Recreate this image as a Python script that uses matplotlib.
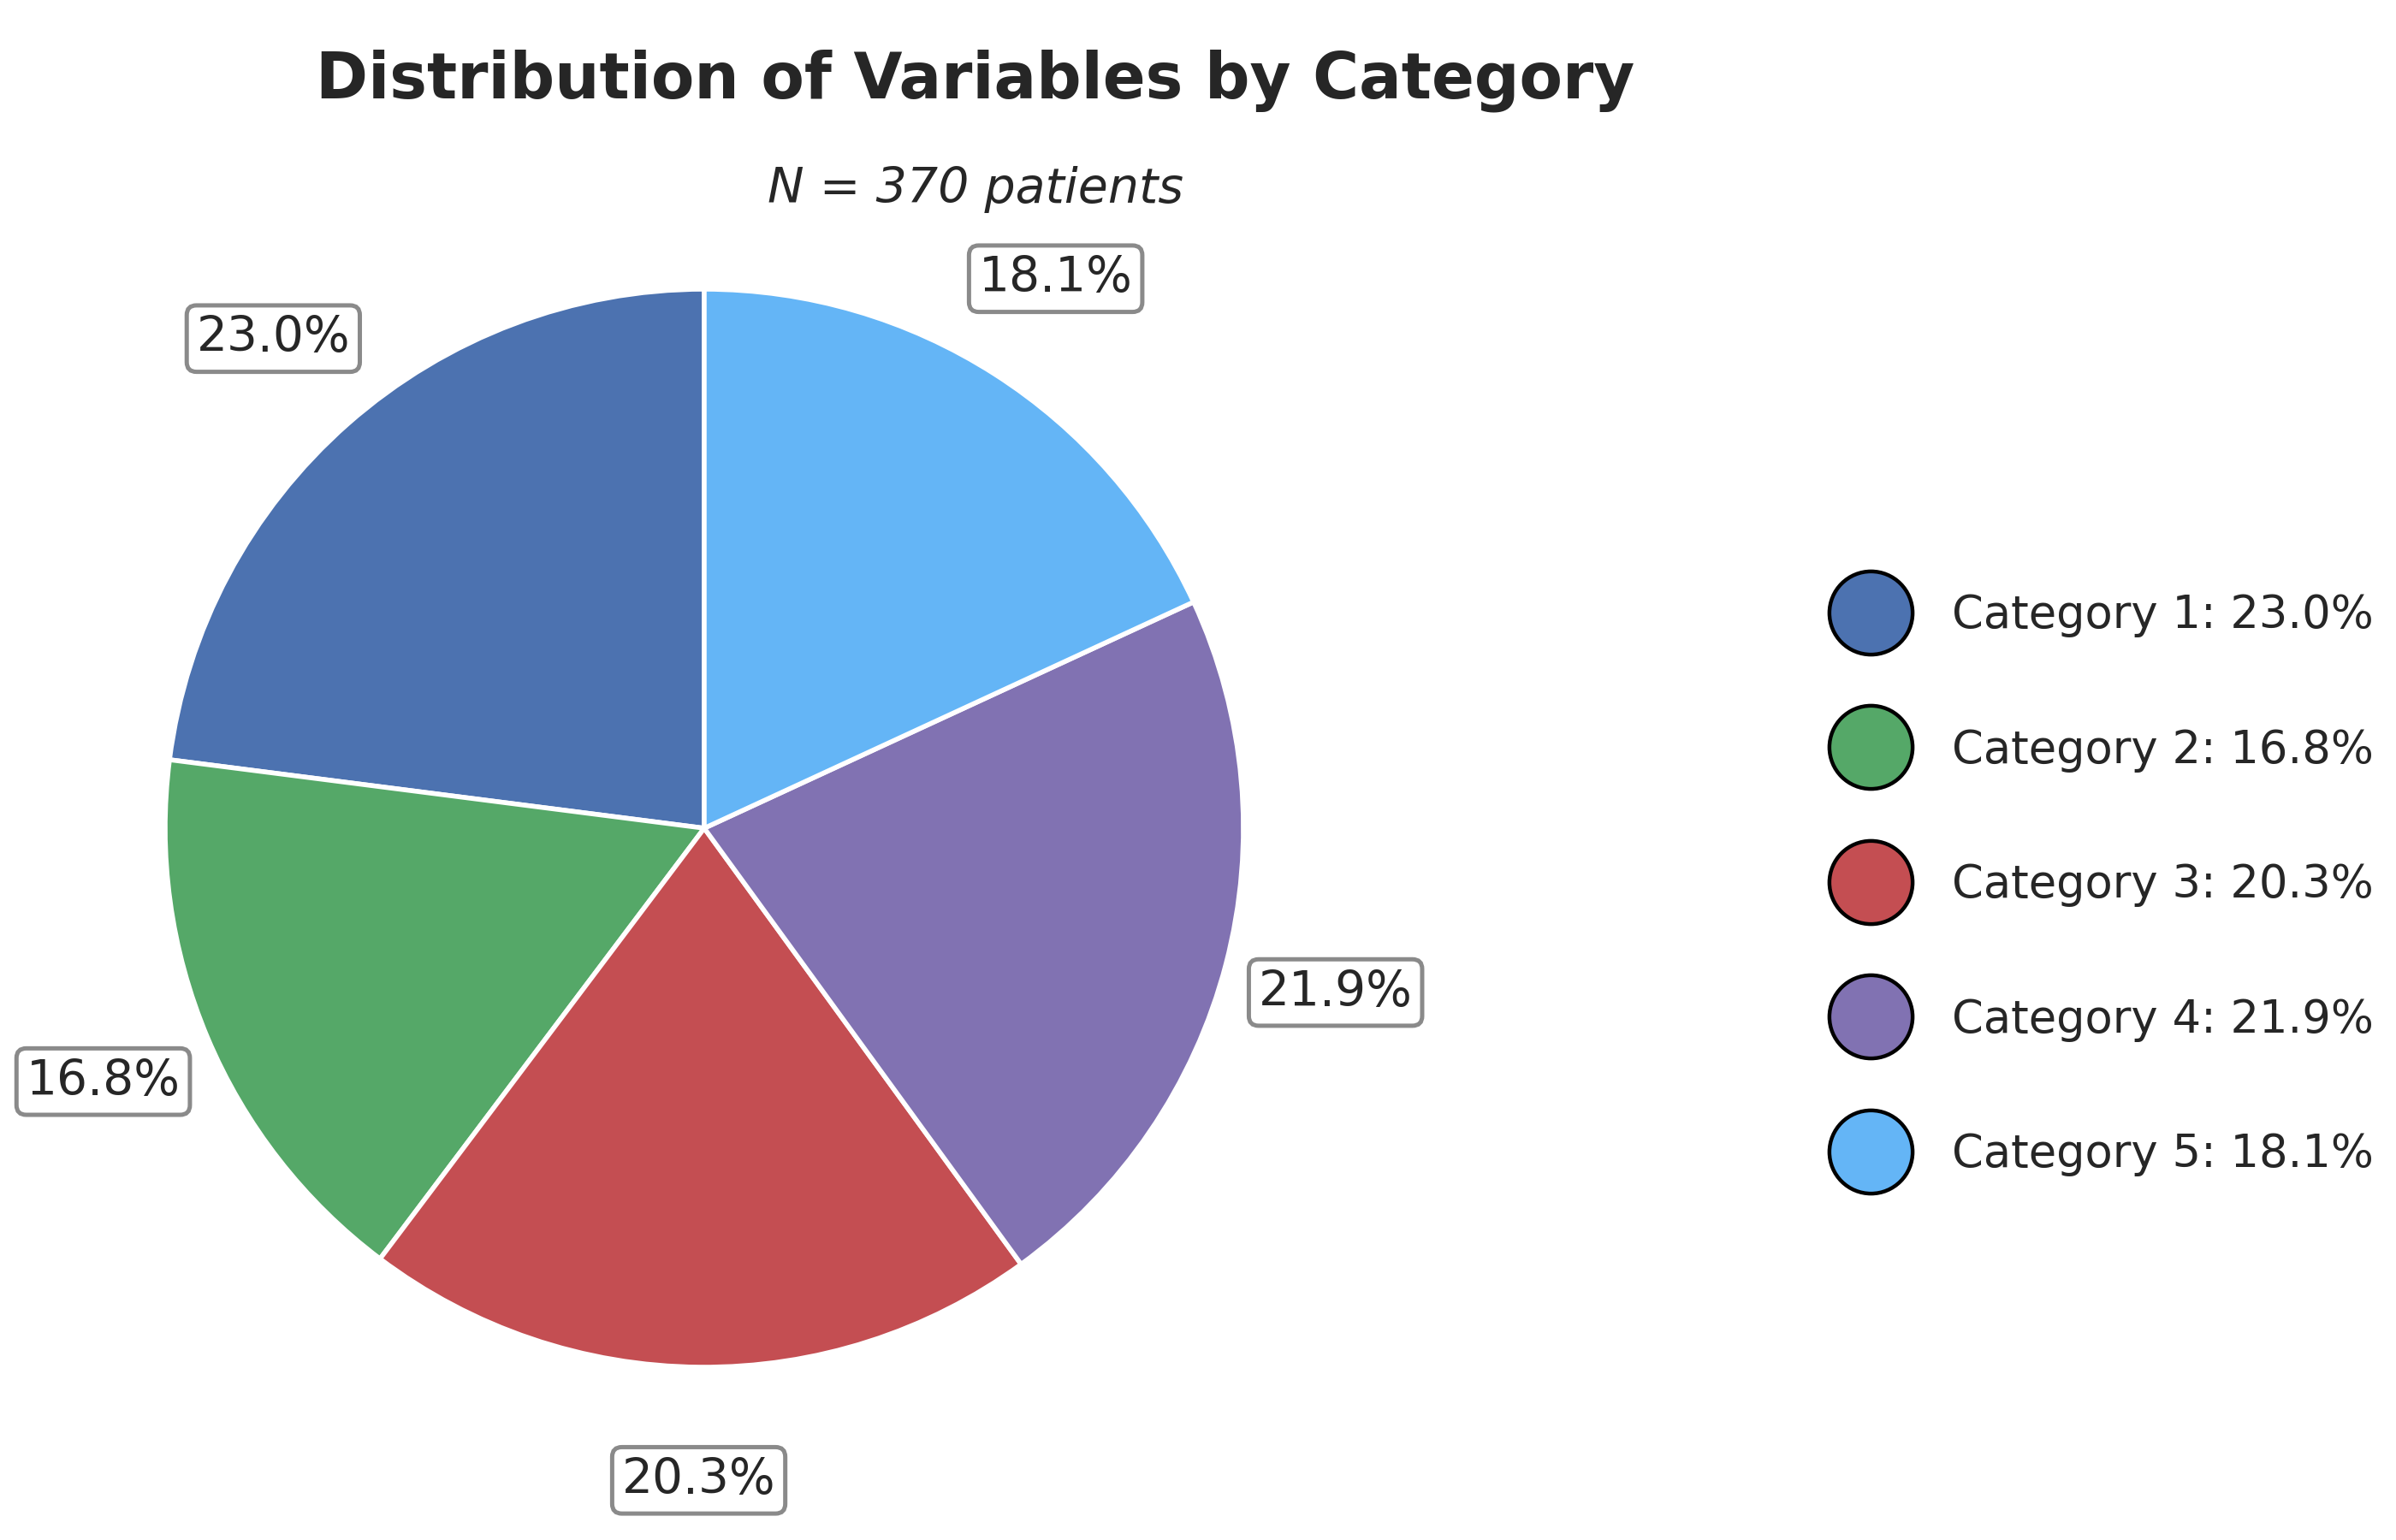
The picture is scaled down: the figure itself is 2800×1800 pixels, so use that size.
import matplotlib
matplotlib.use("Agg")
import matplotlib.pyplot as plt
from matplotlib.lines import Line2D

categories = ["Category 1", "Category 2", "Category 3", "Category 4", "Category 5"]
counts = [85, 62, 75, 81, 67]
colors = ["#4C72B0", "#55A868", "#C44E52", "#8172B2", "#64B5F6"]
title = "Distribution of Variables by Category"
subtitle = f"N = {sum(counts)} patients"

text_color = "#262626"
plt.rcParams['font.family'] = ['DejaVu Sans']

fig = plt.figure(figsize=(14, 9), dpi=200)
fig.patch.set_facecolor("white")

R_PX = 630.0
cx, cy = 823.0, 1800 - 968.0
lim = 1.3
W, H = 2800.0, 1800.0
ax = fig.add_axes([(cx - lim * R_PX) / W, (cy - lim * R_PX) / H,
                   2 * lim * R_PX / W, 2 * lim * R_PX / H])

wedges, texts, autotexts = ax.pie(
    counts, colors=colors, startangle=90, counterclock=True,
    autopct='%1.1f%%', pctdistance=1.21,
    wedgeprops=dict(edgecolor="white", linewidth=2),
    textprops=dict(fontsize=20.4, color=text_color),
)
for t in autotexts:
    t.set_bbox(dict(boxstyle="round,pad=0.2", facecolor="white",
                    edgecolor="#8a8a8a", linewidth=1.8))
ax.set_xlim(-lim, lim)
ax.set_ylim(-lim, lim)
ax.set_aspect('equal')
ax.axis('off')

total = sum(counts)
handles = [Line2D([0], [0], marker='o', linestyle='none', markersize=35,
                  markerfacecolor=c, markeredgecolor='black', markeredgewidth=1.6)
           for c in colors]
labels = [f"{cat}: {100 * v / total:.1f}%" for cat, v in zip(categories, counts)]
fig.legend(handles, labels, loc='center left', bbox_to_anchor=(0.762, 0.4255),
           frameon=False, fontsize=19, labelspacing=2.0, handlelength=2,
           handletextpad=0.8, borderpad=0, borderaxespad=0, labelcolor=text_color)

fig.text(0.407, 0.9475, title, ha='center', va='center', fontsize=26.5,
         fontweight='bold', color=text_color)
fig.text(0.407, 0.877, subtitle, ha='center', va='center', fontsize=20.5,
         fontstyle='italic', color=text_color)

fig.savefig("out.png", dpi=200, facecolor="white")
